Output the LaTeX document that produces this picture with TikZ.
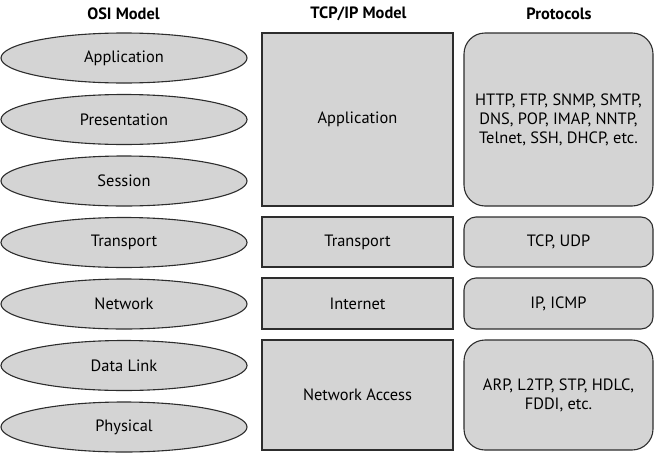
\documentclass[tikz,border=0pt]{standalone}
\usepackage{fontspec}
\setmainfont{PT Sans}
\usetikzlibrary{shapes.geometric}
\definecolor{capagris}{RGB}{212,212,212}
\definecolor{bordegris}{RGB}{45,45,45}
\tikzset{
  capa/.style={draw=bordegris, fill=capagris, line width=1.1pt, font=\fontsize{16.4}{19}\selectfont, inner sep=0pt, align=center},
  osi/.style={capa, ellipse, minimum width=246pt, minimum height=50pt},
  tcpip/.style={capa, rectangle, minimum width=191pt},
  proto/.style={capa, rectangle, rounded corners=12pt, minimum width=189pt},
  titulo/.style={font=\fontsize{16.4}{19}\selectfont\bfseries}
}
\begin{document}
\begin{tikzpicture}[x=1pt, y=-1pt]
            \useasboundingbox (0,0) rectangle (656,453);

            % Títulos
            \node[titulo] (tosi) at (123.5,14) {OSI Model};
            \node[titulo] (ttcp) at (358.5,14) {TCP/IP Model};
            \node[titulo] (tpro) at (559,14) {Protocols};

            % Capas OSI
            \node[osi] (app) at (124,58) {Application};
            \node[osi] (pres) at (124,119.5) {Presentation};
            \node[osi] (ses) at (124,181) {Session};
            \node[osi] (trans) at (124,242.5) {Transport};
            \node[osi] (net) at (124,304) {Network};
            \node[osi] (dlink) at (124,365.5) {Data Link};
            \node[osi] (phys) at (124,427) {Physical};

            % Capas TCP/IP
            \node[tcpip, minimum height=173pt] (tapp) at (357.5,119.5) {Application};
            \node[tcpip, minimum height=50pt] (ttrans) at (357.5,242) {Transport};
            \node[tcpip, minimum height=51pt] (tinet) at (357.5,303.5) {Internet};
            \node[tcpip, minimum height=110pt] (tacc) at (357.5,395) {Network Access};

            % Protocolos
            \node[proto, rounded corners=21pt, minimum height=173pt] (papp) at (558.5,119.5) {HTTP, FTP, SNMP, SMTP,\\DNS, POP, IMAP, NNTP,\\Telnet, SSH, DHCP, etc.};
            \node[proto, minimum height=50pt] (ptrans) at (558.5,242) {TCP, UDP};
            \node[proto, minimum height=51pt] (pinet) at (558.5,303.5) {IP, ICMP};
            \node[proto, rounded corners=21pt, minimum height=110pt] (pacc) at (558.5,395) {ARP, L2TP, STP, HDLC,\\FDDI, etc.};
\end{tikzpicture}
\end{document}
